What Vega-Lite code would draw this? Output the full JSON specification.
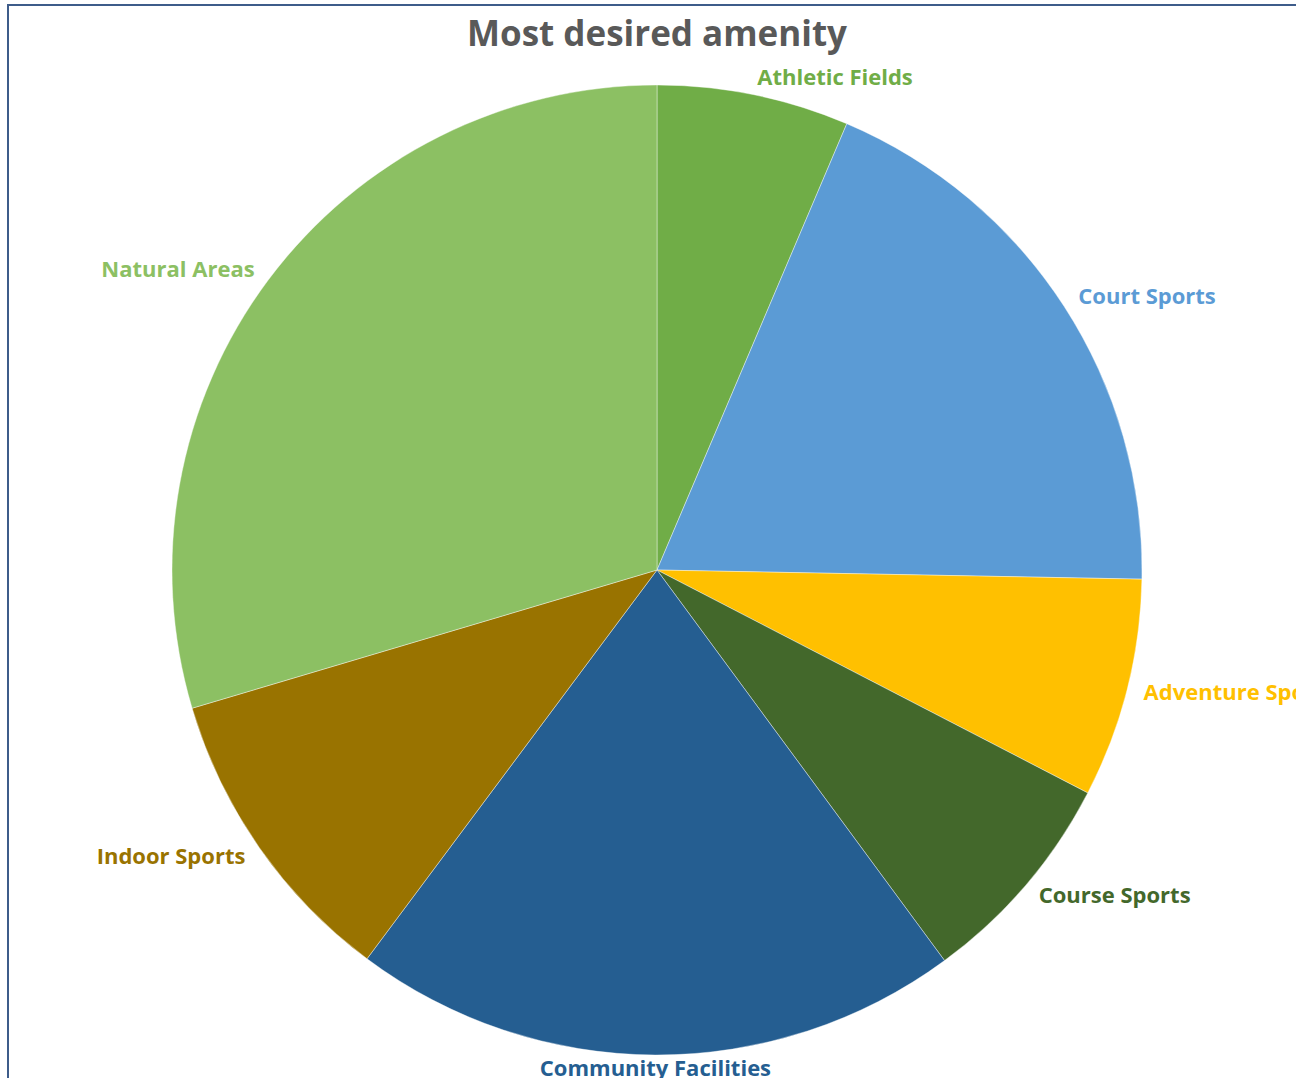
{
  "$schema": "https://vega.github.io/schema/vega-lite/v6.json",
  "autosize": {"type": "none"},
  "width": 1298,
  "height": 1130,
  "padding": {"left": 8, "top": 5, "right": -10, "bottom": -57},
  "background": "#ffffff",
  "view": {"stroke": "#3E5C8A", "strokeWidth": 2, "fill": "#ffffff"},
  "title": {
    "text": "Most desired amenity",
    "font": "Open Sans",
    "fontSize": 35,
    "fontWeight": "bold",
    "color": "#595959",
    "anchor": "middle",
    "offset": -48
  },
  "data": {
    "values": [
      {"amenity": "Athletic Fields", "pct": 6.4, "idx": 1},
      {"amenity": "Court Sports", "pct": 18.9, "idx": 2},
      {"amenity": "Adventure Sports", "pct": 7.3, "idx": 3},
      {"amenity": "Course Sports", "pct": 7.3, "idx": 4},
      {"amenity": "Community Facilities", "pct": 20.3, "idx": 5},
      {"amenity": "Indoor Sports", "pct": 10.2, "idx": 6},
      {"amenity": "Natural Areas", "pct": 29.6, "idx": 7}
    ]
  },
  "encoding": {
    "theta": {"field": "pct", "type": "quantitative", "stack": true},
    "order": {"field": "idx", "type": "quantitative"},
    "color": {
      "field": "amenity",
      "type": "nominal",
      "legend": null,
      "scale": {
        "domain": ["Athletic Fields", "Court Sports", "Adventure Sports", "Course Sports", "Community Facilities", "Indoor Sports", "Natural Areas"],
        "range": ["#70AD47", "#5B9BD5", "#FFC000", "#43682B", "#255E91", "#997300", "#8CC063"]
      }
    }
  },
  "layer": [
    {
      "mark": {"type": "arc", "radius": 485, "stroke": "#ffffff", "strokeWidth": 0.4}
    },
    {
      "mark": {"type": "text", "radius": 502, "align": "left", "baseline": "middle", "font": "Open Sans", "fontSize": 22, "fontWeight": "bold"},
      "encoding": {
        "text": {
          "condition": {"test": "indexof(['Athletic Fields','Court Sports','Adventure Sports','Course Sports'], datum.amenity) >= 0", "field": "amenity"},
          "value": ""
        }
      }
    },
    {
      "mark": {"type": "text", "radius": 502, "align": "right", "baseline": "middle", "font": "Open Sans", "fontSize": 22, "fontWeight": "bold"},
      "encoding": {
        "text": {
          "condition": {"test": "indexof(['Indoor Sports','Natural Areas'], datum.amenity) >= 0", "field": "amenity"},
          "value": ""
        }
      }
    },
    {
      "mark": {"type": "text", "radius": 499, "align": "center", "baseline": "middle", "font": "Open Sans", "fontSize": 22, "fontWeight": "bold"},
      "encoding": {
        "text": {
          "condition": {"test": "datum.amenity === 'Community Facilities'", "field": "amenity"},
          "value": ""
        }
      }
    }
  ]
}
